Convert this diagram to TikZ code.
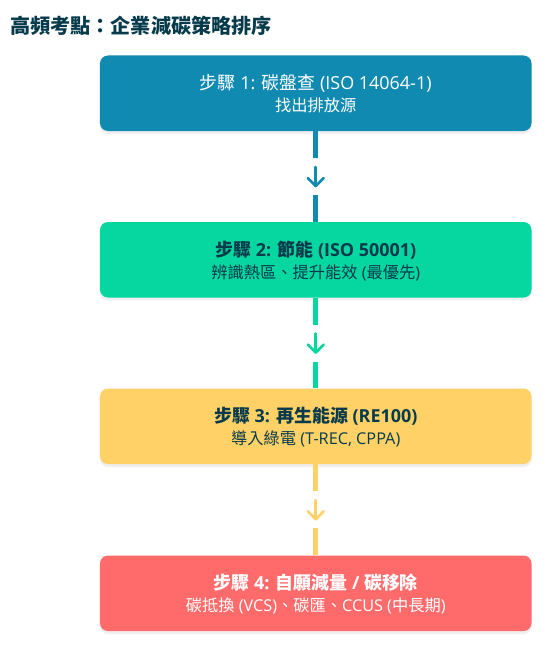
\documentclass[tikz,border=0pt]{standalone}
\usepackage{fontspec}
\setmainfont{Open Sans}
\newfontfamily\cjk{Noto Sans CJK TC}
\usetikzlibrary{shadows}
\definecolor{cblue}{HTML}{118AB2}
\definecolor{cgreen}{HTML}{06D6A0}
\definecolor{cyellow}{HTML}{FFD166}
\definecolor{cred}{HTML}{FF6B6B}
\definecolor{cdark}{HTML}{073B4C}
\tikzset{
  stepbox/.style={rounded corners=8bp, minimum width=431.5bp, minimum height=75.5bp,
    inner sep=0pt,
    drop shadow={opacity=0.12, shadow xshift=0bp, shadow yshift=-3bp}},
  conn/.style={line width=5bp, dash pattern=on 27bp off 37bp on 27bp},
  chev/.style={line width=2.6bp, line cap=round, line join=round},
  headtext/.style={anchor=base, inner sep=0pt, font=\fontsize{18}{20}\selectfont},
  boldhead/.style={headtext, font=\fontsize{18}{20}\selectfont\bfseries},
  subtext/.style={anchor=base, inner sep=0pt, font=\fontsize{16.3}{20}\selectfont},
}
\begin{document}
\begin{tikzpicture}[x=1bp,y=-1bp]
\useasboundingbox[fill=white] (0,0) rectangle (557,650);
\node[anchor=west, inner sep=0pt, text=cdark, font=\fontsize{20.2}{24}\selectfont\cjk\bfseries] (title) at (10,25.5) {高頻考點：企業減碳策略排序};
\node[stepbox, fill=cblue] (s1) at (315.75,93.25) {};
\node[stepbox, fill=cgreen] (s2) at (315.75,259.75) {};
\node[stepbox, fill=cyellow] (s3) at (315.75,426.25) {};
\node[stepbox, fill=cred] (s4) at (315.75,593.25) {};
\node[headtext, text=white] (h1) at ([yshift=3.5bp]s1.center) {{\cjk 步驟} 1: {\cjk 碳盤查} (ISO 14064-1)};
\node[subtext, text=white] (t1) at ([yshift=-18.3bp]s1.center) {\cjk 找出排放源};
\node[boldhead, text=cdark] (h2) at ([yshift=3.5bp]s2.center) {{\cjk 步驟} 2: {\cjk 節能} (ISO 50001)};
\node[subtext, text=cdark] (t2) at ([yshift=-18.3bp]s2.center) {{\cjk 辨識熱區、提升能效} ({\cjk 最優先})};
\node[boldhead, text=cdark] (h3) at ([yshift=3.5bp]s3.center) {{\cjk 步驟} 3: {\cjk 再生能源} (RE100)};
\node[subtext, text=cdark] (t3) at ([yshift=-18.3bp]s3.center) {{\cjk 導入綠電} (T-REC, CPPA)};
\node[boldhead, text=white] (h4) at ([yshift=3.5bp]s4.center) {{\cjk 步驟} 4: {\cjk 自願減量} / {\cjk 碳移除}};
\node[subtext, text=white] (t4) at ([yshift=-18.3bp]s4.center) {{\cjk 碳抵換} (VCS){\cjk 、碳匯、}CCUS ({\cjk 中長期})};
\foreach \a/\b/\c in {s1/s2/cblue, s2/s3/cgreen, s3/s4/cyellow}{
  \draw[conn, draw=\c] (\a.south) -- (\b.north) coordinate[midway] (m\a);
  \draw[chev, draw=\c] ([yshift=9.5bp]m\a) -- ([yshift=-9.5bp]m\a);
  \draw[chev, draw=\c] ([xshift=-8bp,yshift=-1.5bp]m\a) -- ([yshift=-9.5bp]m\a) -- ([xshift=8bp,yshift=-1.5bp]m\a);
}
\end{tikzpicture}
\end{document}
